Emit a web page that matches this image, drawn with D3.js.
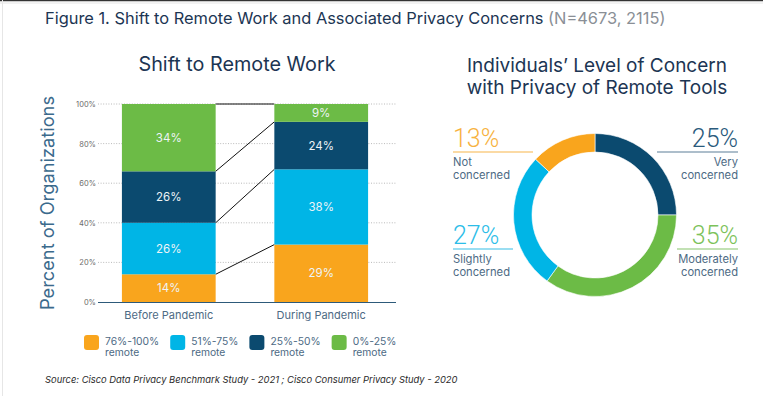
<!DOCTYPE html>
<html><head><meta charset="utf-8">
<script src="https://cdn.jsdelivr.net/npm/d3@7"></script>
<style>
html,body{margin:0;padding:0;background:#fff;}
svg{display:block;font-family:Inter,"Open Sans",sans-serif;}
</style></head>
<body>
<svg id="c" width="763" height="396"></svg>
<script>
// ---- data ----
const periods = ["Before Pandemic", "During Pandemic"];
const remoteLevels = ["76%-100%", "51%-75%", "25%-50%", "0%-25%"];
const beforeValues = [14, 26, 26, 34];
const duringValues = [29, 38, 24, 9];
const yTicks = [0, 20, 40, 60, 80, 100];

const concernLevels = ["Very concerned", "Moderately concerned", "Slightly concerned", "Not concerned"];
const concernValues = [25, 35, 27, 13];

const colors = ["#f9a51d", "#00b5e6", "#0b4a6f", "#6cbb46"];
const concernColors = ["#0b4a6f", "#6cbb46", "#00b5e6", "#f9a51d"];

const svg = d3.select("#c");
const navy = "#1c3553";
const txtGray = "#4d6a84";

// frame lines
svg.append("rect").attr("x",0).attr("y",0).attr("width",763).attr("height",396).attr("fill","#fff");
svg.append("line").attr("x1",0).attr("x2",763).attr("y1",0.5).attr("y2",0.5).attr("stroke","#333").attr("stroke-width",1.5);
svg.append("line").attr("x1",0).attr("x2",763).attr("y1",3).attr("y2",3).attr("stroke","#e6e6e6");
svg.append("line").attr("x1",2.5).attr("x2",2.5).attr("y1",0).attr("y2",396).attr("stroke","#e6e6e6");

// main title
const t = svg.append("text").attr("x",45).attr("y",24).attr("font-size",16.4).attr("fill",navy);
t.append("tspan").text("Figure 1. Shift to Remote Work and Associated Privacy Concerns ");
t.append("tspan").attr("fill","#8a8f96").text("(N=4673, 2115)");

// ---- bar chart ----
svg.append("text").attr("x",237).attr("y",71).attr("text-anchor","middle").attr("font-size",19.8).attr("fill",navy).text("Shift to Remote Work");

const y = d3.scaleLinear().domain([0,100]).range([302,104]);
const x = d3.scaleBand().domain(periods).range([96,394]).paddingInner(0.385).paddingOuter(0.17);
const gx0 = 98, gx1 = 396;

const grid = svg.append("g");
grid.selectAll("line").data(yTicks.filter(d=>d>0)).join("line")
  .attr("x1",gx0).attr("x2",gx1).attr("y1",d=>y(d)).attr("y2",d=>y(d))
  .attr("stroke","#a8a8a8").attr("stroke-width",0.8).attr("stroke-dasharray","1,1.6");

const yAxis = d3.axisLeft(y).tickValues(yTicks).tickFormat(d=>d+"%").tickSize(0).tickPadding(2);
const ya = svg.append("g").attr("transform",`translate(${gx0},0)`).call(yAxis);
ya.select(".domain").remove();
ya.selectAll("text").attr("font-size",7.5).attr("fill","#6b6b6b").attr("font-family","Inter,'Open Sans',sans-serif");

function stackOf(vals){ let c=0; return vals.map((v,i)=>{const s={i, v, y0:c, y1:c+v}; c+=v; return s;}); }
const stacks = [stackOf(beforeValues), stackOf(duringValues)];

// connector lines
const conn = svg.append("g");
for(let k=0;k<remoteLevels.length;k++){
  conn.append("line")
    .attr("x1", x(periods[0])+x.bandwidth()).attr("y1", y(stacks[0][k].y1))
    .attr("x2", x(periods[1])).attr("y2", y(stacks[1][k].y1))
    .attr("stroke","#111").attr("stroke-width",1);
}

periods.forEach((p,pi)=>{
  const g = svg.append("g");
  g.selectAll("rect").data(stacks[pi]).join("rect")
    .attr("x", x(p)).attr("width", x.bandwidth())
    .attr("y", d=>y(d.y1)).attr("height", d=>y(d.y0)-y(d.y1))
    .attr("fill", d=>colors[d.i]);
  g.selectAll("text").data(stacks[pi]).join("text")
    .attr("x", x(p)+x.bandwidth()/2).attr("y", d=>y((d.y0+d.y1)/2)+4)
    .attr("text-anchor","middle").attr("font-size",11.5).attr("fill","#eef4f7")
    .text(d=>d.v+"%");
});

// x axis
svg.append("line").attr("x1",gx0).attr("x2",gx1).attr("y1",y(0)+0.5).attr("y2",y(0)+0.5).attr("stroke","#2d5a7a").attr("stroke-width",1);
const xAxis = d3.axisBottom(x).tickSize(0).tickPadding(9);
const xa = svg.append("g").attr("transform",`translate(0,${y(0)})`).call(xAxis);
xa.select(".domain").remove();
xa.selectAll("text").attr("font-size",11).attr("fill",txtGray).attr("font-family","Inter,'Open Sans',sans-serif");

// y axis title
svg.append("text").attr("transform","translate(54,203) rotate(-90)").attr("text-anchor","middle")
  .attr("font-size",18.3).attr("fill","#3b6a8c").text("Percent of Organizations");

// legend
let lx = 84;
remoteLevels.forEach((lab,i)=>{
  const g = svg.append("g").attr("transform",`translate(${lx},335)`);
  g.append("rect").attr("width",15).attr("height",15).attr("rx",3).attr("fill",colors[i]);
  const tx = g.append("text").attr("x",21).attr("y",10).attr("font-size",10.3).attr("fill",txtGray);
  tx.append("tspan").attr("x",21).text(lab);
  tx.append("tspan").attr("x",21).attr("dy",10.5).text("remote");
  const w = tx.node().getBBox().width;
  lx += 21 + w + 11;
});

// source
svg.append("text").attr("x",45).attr("y",383).attr("font-size",9.4).attr("font-style","italic").attr("fill","#2a2a2a")
  .text("Source: Cisco Data Privacy Benchmark Study - 2021 ; Cisco Consumer Privacy Study - 2020");

// ---- donut ----
const dt = svg.append("text").attr("text-anchor","middle").attr("font-size",19).attr("fill",navy);
dt.append("tspan").attr("x",597).attr("y",72).text("Individuals’ Level of Concern");
dt.append("tspan").attr("x",597).attr("y",94).text("with Privacy of Remote Tools");

const cx = 595, cy = 215;
const pie = d3.pie().sort(null).value(d=>d);
const arc = d3.arc().innerRadius(63).outerRadius(81.5);
svg.append("g").attr("transform",`translate(${cx},${cy})`)
  .selectAll("path").data(pie(concernValues)).join("path")
  .attr("d",arc).attr("fill",(d,i)=>concernColors[i]).attr("stroke","#fff").attr("stroke-width",0.6);

// labels
const lblColors = ["#2a5a7c", "#7cc25a", "#2cbde8", "#f7b240"];
const lineColors = ["#5d7f98", "#86c46a", "#37bde6", "#f7b54a"];
const labelSpec = [
  {i:3, left:true,  y:147, lx2:533},
  {i:0, left:false, y:147, lx2:657},
  {i:2, left:true,  y:244, lx2:513},
  {i:1, left:false, y:244, lx2:677}
];
const LX = 453, RX = 738;
labelSpec.forEach(s=>{
  const ax = s.left ? LX : RX;
  const anchor = s.left ? "start" : "end";
  svg.append("text").attr("x",ax).attr("y",s.y).attr("text-anchor",anchor)
    .attr("font-size",25).attr("font-weight",300).attr("font-family","Roboto,Inter,sans-serif")
    .attr("fill",lblColors[s.i]).text(concernValues[s.i]+"%");
  svg.append("line").attr("x1",ax).attr("x2",s.lx2).attr("y1",s.y+5).attr("y2",s.y+5)
    .attr("stroke",lineColors[s.i]).attr("stroke-width",1.2);
  const words = concernLevels[s.i].split(" ");
  const tt = svg.append("text").attr("text-anchor",anchor).attr("font-size",11.2).attr("fill",txtGray);
  tt.append("tspan").attr("x",ax).attr("y",s.y+19).text(words[0]);
  tt.append("tspan").attr("x",ax).attr("y",s.y+32).text(words[1]);
});
</script>
</body></html>
